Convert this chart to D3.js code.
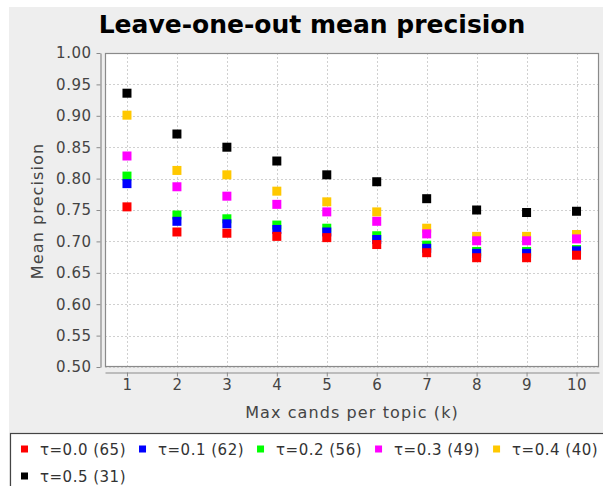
<!DOCTYPE html>
<html lang="en">
<head>
    <meta charset="utf-8" />
    <title>Leave-one-out mean precision</title>
    <script src="https://d3js.org/d3.v7.min.js"></script>
    <style>
        body { margin: 0; background: #fff; }
        svg text { font-family: "DejaVu Sans", sans-serif; }
    </style>
</head>
<body>
    <script>
        // Data: mean precision per max candidates (k)
        var kValues = [1, 2, 3, 4, 5, 6, 7, 8, 9, 10];
        var tau00 = [0.755, 0.715, 0.713, 0.708, 0.706, 0.695, 0.682, 0.674, 0.674, 0.678];
        var tau01 = [0.792, 0.732, 0.728, 0.719, 0.715, 0.703, 0.689, 0.681, 0.681, 0.685];
        var tau02 = [0.804, 0.742, 0.736, 0.726, 0.721, 0.709, 0.694, 0.684, 0.684, 0.687];
        var tau03 = [0.836, 0.787, 0.772, 0.759, 0.747, 0.732, 0.712, 0.701, 0.701, 0.704];
        var tau04 = [0.901, 0.813, 0.806, 0.780, 0.763, 0.747, 0.721, 0.708, 0.708, 0.711];
        var tau05 = [0.936, 0.871, 0.850, 0.828, 0.806, 0.795, 0.768, 0.750, 0.746, 0.748];
        var seriesNames = ["τ=0.0 (65)", "τ=0.1 (62)", "τ=0.2 (56)", "τ=0.3 (49)", "τ=0.4 (40)", "τ=0.5 (31)"];
        var yTicks = [0.50, 0.55, 0.60, 0.65, 0.70, 0.75, 0.80, 0.85, 0.90, 0.95, 1.00];

        var seriesValues = [tau00, tau01, tau02, tau03, tau04, tau05];
        var colors = ["#ff0000", "#0000ff", "#00ff00", "#ff00ff", "#ffc800", "#000000"];

        var w = 603, h = 486;
        var plot = { left: 105, right: 599, top: 53, bottom: 367 };

        var xScale = d3.scaleLinear().domain([0.56, 10.45]).range([plot.left, plot.right]);
        var yScale = d3.scaleLinear().domain([0.5, 1.0]).range([plot.bottom, plot.top]);

        var svg = d3.select("body").append("svg").attr("width", w).attr("height", h);

        // chart background
        svg.append("rect").attr("x", 9).attr("y", 7).attr("width", w).attr("height", h)
            .attr("fill", "#eeeeee");

        // title
        svg.append("text")
            .attr("x", 312).attr("y", 33)
            .attr("text-anchor", "middle")
            .attr("font-size", "25px").attr("font-weight", "bold")
            .attr("fill", "#000")
            .text("Leave-one-out mean precision");

        // plot area
        svg.append("rect")
            .attr("x", plot.left).attr("y", plot.top)
            .attr("width", plot.right - plot.left).attr("height", plot.bottom - plot.top)
            .attr("fill", "#fff");

        // gridlines
        svg.append("g").selectAll("line").data(yTicks).enter().append("line")
            .attr("x1", plot.left).attr("x2", plot.right)
            .attr("y1", function (d) { return Math.round(yScale(d)) + 0.5; })
            .attr("y2", function (d) { return Math.round(yScale(d)) + 0.5; })
            .attr("stroke", "#d0d0d0").attr("stroke-dasharray", "2,2");
        svg.append("g").selectAll("line").data(kValues).enter().append("line")
            .attr("y1", plot.top).attr("y2", plot.bottom)
            .attr("x1", function (d) { return Math.round(xScale(d)) + 0.5; })
            .attr("x2", function (d) { return Math.round(xScale(d)) + 0.5; })
            .attr("stroke", "#d0d0d0").attr("stroke-dasharray", "2,2");

        // plot border
        svg.append("rect")
            .attr("x", plot.left + 0.5).attr("y", plot.top + 0.5)
            .attr("width", plot.right - plot.left - 1).attr("height", plot.bottom - plot.top - 1)
            .attr("fill", "none").attr("stroke", "#8a8a8a").attr("stroke-width", 1.2);

        // points (series 0 drawn last so it sits on top)
        var size = 9;
        for (var s = seriesValues.length - 1; s >= 0; s--) {
            svg.append("g").selectAll("rect").data(seriesValues[s]).enter().append("rect")
                .attr("x", function (d, i) { return xScale(kValues[i]) - size / 2; })
                .attr("y", function (d) { return yScale(d) - size / 2; })
                .attr("width", size).attr("height", size)
                .attr("fill", colors[s]);
        }

        // axes
        var yAxis = d3.axisLeft(yScale).tickValues(yTicks).tickFormat(d3.format(".2f"))
            .tickSizeInner(4).tickSizeOuter(0).tickPadding(5);
        var gy = svg.append("g").attr("transform", "translate(100.5,0)").call(yAxis);

        var xAxis = d3.axisBottom(xScale).tickValues(kValues)
            .tickSizeInner(4).tickSizeOuter(0).tickPadding(3);
        var gx = svg.append("g").attr("transform", "translate(0,372.5)").call(xAxis);

        [gy, gx].forEach(function (g) {
            g.select(".domain").attr("stroke", "#8a8a8a").attr("stroke-width", 1.2);
            g.selectAll(".tick line").attr("stroke", "#8a8a8a");
            g.selectAll(".tick text")
                .attr("font-family", "DejaVu Sans, sans-serif")
                .attr("font-size", "15px").attr("letter-spacing", "0.5px")
                .attr("fill", "#444");
        });

        // axis labels
        svg.append("text")
            .attr("text-anchor", "middle")
            .attr("x", 352).attr("y", 418)
            .attr("font-size", "16px").attr("letter-spacing", "1.1px")
            .attr("fill", "#444")
            .text("Max cands per topic (k)");

        svg.append("text")
            .attr("text-anchor", "middle")
            .attr("transform", "rotate(-90)")
            .attr("x", -211).attr("y", 43)
            .attr("font-size", "16px").attr("letter-spacing", "1.1px")
            .attr("fill", "#444")
            .text("Mean precision");

        // legend
        svg.append("rect")
            .attr("x", 10.5).attr("y", 433.5).attr("width", 620).attr("height", 80)
            .attr("fill", "#fff").attr("stroke", "#444").attr("stroke-width", 1.2);

        var lx = 21, ly = 449;
        seriesNames.forEach(function (name, i) {
            var item = svg.append("g");
            item.append("rect")
                .attr("x", lx).attr("y", ly - 3.5)
                .attr("width", 7).attr("height", 7)
                .attr("fill", colors[i]);
            var t = item.append("text")
                .attr("x", lx + 19).attr("y", ly + 5.5)
                .attr("font-size", "15px").attr("letter-spacing", "0.5px")
                .attr("fill", "#333")
                .text(name);
            var next = lx + 19 + t.node().getComputedTextLength() + 13;
            if (next + 100 > w) { lx = 21; ly += 27; } else { lx = next; }
        });
    </script>
</body>
</html>
